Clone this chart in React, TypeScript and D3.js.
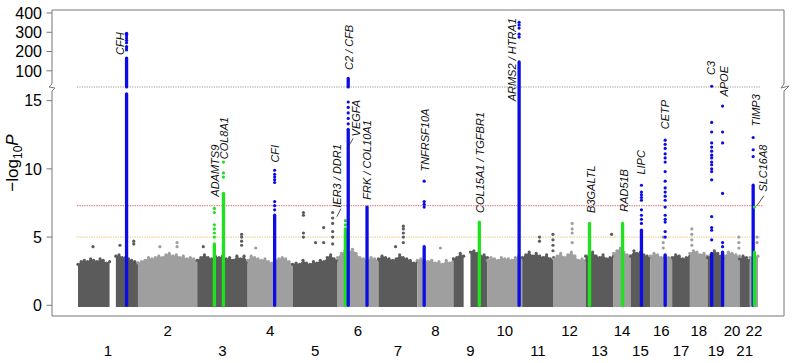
import * as d3 from "d3";

// chromosome widths on the x axis (share of markers, per mille)
const chrNames = ["1", "2", "3", "4", "5", "6", "7", "8", "9", "10", "11", "12", "13", "14", "15", "16", "17", "18", "19", "20", "21", "22"];
const chrSpan = [88, 87, 74, 66, 66, 60, 57, 53, 50, 51, 46, 47, 41, 25, 29, 32, 26, 26, 25, 22, 15, 12];

// upper edge of the dense background cloud, evenly spaced along each chromosome (null = gap)
const chrProfile: (number | null)[][] = [
  [3.0, 3.2, 3.3, 3.2, 3.4, 3.3, 3.2, 3.4, 3.3, 3.1, 3.2, null, 3.6, 3.7, 3.5, 3.5, 3.4, 3.3, 3.2, 3.1],
  [3.1, 3.2, 3.3, 3.5, 3.4, 3.5, 3.6, 3.5, 3.7, 3.8, 3.6, 3.7, 3.5, 3.6, 3.4, 3.5, 3.4, 3.3],
  [3.3, 3.5, 3.7, 3.5, 3.4, 3.6, 3.5, 3.6, 3.4, 3.5, 3.3, 3.6, 3.4, 3.6, 3.2],
  [3.3, 3.6, 3.5, 3.4, 3.3, 3.4, 3.2, 3.1, 3.3, 3.4, 3.5, 3.4, 3.2, 3.0],
  [3.0, 3.1, 3.0, 3.3, 3.1, 3.0, 3.2, 3.1, 3.3, 3.2, 3.5, 3.7, 3.4, 3.3],
  [3.5, 3.8, 4.0, 3.9, 4.1, 3.8, 3.5, 3.4, 3.3, 3.5, 3.4, 3.3],
  [3.4, 3.6, 3.5, 3.4, 3.3, 3.4, 3.7, 3.5, 3.4, 3.3, 3.1, 3.2],
  [3.3, 3.4, 3.3, 3.2, 3.3, 3.1, 3.2, 3.0, 3.3, 3.1, 3.4],
  [3.4, 3.5, 3.8, 3.6, null, 3.9, 4.0, 3.8, 3.6, 3.7, 3.5],
  [3.3, 3.5, 3.4, 3.3, 3.5, 3.4, 3.4, 3.3, 3.5, 3.6, 3.4],
  [3.5, 3.7, 3.9, 3.6, 3.8, 3.6, 3.5, 3.7, 3.4, 3.5],
  [3.4, 3.6, 3.8, 3.5, 3.7, 3.9, 3.6, 3.3, 3.4, 3.3],
  [3.6, 3.7, 3.9, 3.6, 3.5, 3.7, 3.4, 3.5, 3.6],
  [3.8, 4.0, 4.2, 3.9, 3.7, 3.6],
  [3.6, 4.0, 3.8, 3.9, 3.7, 3.6, 3.5],
  [3.6, 3.8, 3.7, 3.5, 3.6, 3.5, 3.4],
  [3.5, 3.7, 3.6, 3.4, 3.5, 3.6],
  [3.8, 4.0, 3.9, 3.7, 3.8, 3.6],
  [3.5, 3.7, 4.0, 3.8, 3.6, 3.5],
  [3.6, 3.9, 3.8, 3.7, 3.6],
  [3.4, 3.6, 3.5, 3.3],
  [3.5, 3.7, 3.6],
];

// isolated background markers above the cloud: chromosome, position within it, -log10 P
const strayChr = [1, 1, 1, 2, 2, 3, 3, 4, 5, 5, 5, 5, 7, 7, 8, 11, 11, 12, 13, 16, 18, 20, 22];
const strayPos = [0.25, 0.70, 0.93, 0.37, 0.66, 0.12, 0.88, 0.18, 0.24, 0.51, 0.69, 0.89, 0.44, 0.64, 0.64, 0.55, 0.98, 0.58, 0.93, 0.59, 0.11, 0.95, 0.88];
const strayP = [
  [4.3], [4.4], [4.5, 4.7], [4.3], [4.3, 4.6], [4.3], [4.4, 4.7, 5.0, 5.2], [4.2],
  [5.0, 5.3, 6.6, 6.8], [4.6], [4.6, 5.7], [4.5, 5.0, 5.4, 6.0, 6.4, 6.8],
  [4.3], [4.6, 5.0, 5.3, 5.6, 5.8], [4.2], [4.7, 5.0], [4.0, 4.4, 4.8, 5.2],
  [4.6, 5.3, 5.6, 6.0], [5.2], [4.2, 4.6, 5.0], [4.4, 4.8, 5.2, 5.6], [4.2, 4.6, 5.0], [4.6, 5.0],
];

// highlighted loci
const lociChr = [1, 3, 3, 4, 6, 6, 6, 8, 9, 10, 13, 14, 15, 16, 19, 19, 22, 22];
const lociPos = [0.81, 0.34, 0.52, 0.60, 0.19, 0.26, 0.72, 0.19, 0.76, 0.91, 0.14, 0.53, 0.55, 0.68, 0.24, 0.88, 0.41, 0.56];
const lociNovel = [false, true, true, false, true, false, false, false, true, false, true, true, false, false, false, false, false, true];
// continuous runs of markers [from, to] in -log10 P
const lociRuns: number[][][] = [
  [[0, 15.5], [16.5, 166]],
  [[0, 4.5]],
  [[0, 8.2]],
  [[0, 6.6]],
  [[0, 5.6]],
  [[0, 12.9], [16.5, 61]],
  [[0, 7.2]],
  [[0, 4.3]],
  [[0, 6.1]],
  [[0, 146]],
  [[0, 6.0]],
  [[0, 6.0]],
  [[0, 5.5]],
  [[0, 3.7]],
  [[0, 3.8]],
  [[0, 3.9]],
  [[0, 8.8]],
  [[0, 3.9]],
];
// single markers above / between the runs
const lociDots: number[][] = [
  [208, 218, 226, 246, 258, 270, 282, 290, 295],
  [5.0, 5.3, 5.6, 5.9, 6.8, 7.1],
  [9.4, 9.7, 10.5],
  [7.0, 7.3, 7.6, 9.0, 9.2, 9.4, 9.6, 9.9],
  [5.9, 6.2],
  [13.3, 13.7, 14.1, 14.5, 14.9],
  [],
  [7.2, 7.4, 7.6, 9.1],
  [],
  [275, 290, 322, 338, 352],
  [],
  [],
  [6.0, 6.3, 6.6, 7.0, 7.7, 7.9, 8.1, 8.3, 8.8],
  [5.0, 5.4, 6.1, 6.3, 6.6, 7.2, 7.7, 8.0, 8.3, 8.6, 9.1, 9.8, 10.5, 10.8, 11.1, 11.5, 11.8, 12.1],
  [4.8, 5.5, 5.7, 6.5, 9.2, 9.8, 10.0, 10.3, 10.5, 10.8, 11.0, 11.3, 11.6, 11.9, 12.7, 13.4, 20],
  [4.3, 4.6, 8.2, 11.9, 12.7, 14.6],
  [10.9, 11.4, 12.3],
  [7.2],
];

// gene labels: locus index and -log10 P where the label starts
const geneLabels = ["CFH", "ADAMTS9", "COL8A1", "CFI", "IER3 / DDR1", "C2 / CFB", "VEGFA", "FRK / COL10A1", "TNFRSF10A", "COL15A1 / TGFBR1", "ARMS2 / HTRA1", "B3GALTL", "RAD51B", "LIPC", "CETP", "C3", "APOE", "TIMP3", "SLC16A8"];
const labelLocus = [0, 1, 2, 3, 4, 5, 5, 6, 7, 8, 9, 10, 11, 12, 13, 14, 15, 16, 17];
const labelAt = [182, 7.96, 10.7, 10.46, 7.15, 104, 12.38, 7.74, 9.8, 6.77, 14.95, 6.77, 6.85, 9.58, 12.9, 78, 15.3, 13.1, 8.33];

const lowerTicks = [0, 5, 10, 15];
const upperTicks = [100, 200, 300, 400];
const breakAt = 16;
const genomeWide = 7.3;
const suggestive = 5;

// layout only
const labelDx = [-2.5, 5, 5, 4, -4, 4.5, 12, 3.5, 5, 5, -3, 5, 5, 4, 4, 3, 5, 6.5, 12.5];
const leaders: Record<string, number[]> = {
  "VEGFA": [-13, 12, -7, 2],
  "IER3 / DDR1": [-4.5, 9, -0.5, 1],
  "SLC16A8": [-10, 14, -3, 4],
};

const DARK = "#5b5b5b";
const LIGHT = "#9f9f9f";
const BLUE = "#0c0ce6";
const GREEN = "#1de21d";
const FONT = "'Liberation Sans', Arial, Helvetica, sans-serif";

export default function App() {
  const W = 800, H = 363;
  const frame = { left: 52, right: 784, top: 10, bottom: 316 };
  const starts = Array.from(d3.cumsum([0, ...chrSpan]));
  const x = d3.scaleLinear().domain([0, d3.sum(chrSpan)]).range([78, 758]);
  const y = d3.scaleLinear().domain([0, breakAt, 400]).range([305.3, 87, 13]);
  const posX = (chr: number, frac: number) => x(starts[chr - 1] + frac * chrSpan[chr - 1]);
  const r = 1.6;

  const area = d3
    .area<{ f: number; v: number | null; c: number }>()
    .defined(d => d.v != null)
    .x(d => posX(d.c, d.f))
    .y0(y(0) + r)
    .y1(d => y(d.v as number));

  const xLo = 77, xHi = 760;
  const brkY = y(breakAt);

  return (
    <svg width={W} height={H} style={{ position: "absolute", left: 0, top: 0, background: "#fff" }} fontFamily={FONT}>
      {/* threshold lines */}
      <line x1={xLo} x2={xHi} y1={brkY} y2={brkY} stroke="#8c8c8c" strokeWidth={0.9} strokeDasharray="1.2,1.2" />
      <line x1={xLo} x2={xHi + 3} y1={y(genomeWide)} y2={y(genomeWide)} stroke="#e06a6a" strokeWidth={1} strokeDasharray="1.4,1" />
      <line x1={xLo} x2={xHi} y1={y(suggestive)} y2={y(suggestive)} stroke="#f3c36e" strokeWidth={1} strokeDasharray="1.4,1" />

      {/* background cloud */}
      {chrProfile.map((prof, i) => {
        const pts = prof.map((v, j) => ({ f: j / (prof.length - 1), v, c: i + 1 }));
        const col = i % 2 === 0 ? DARK : LIGHT;
        return (
          <g key={"m" + i} fill={col}>
            <path d={area(pts) || ""} />
            {pts.filter(p => p.v != null).map((p, j) => (
              <circle key={j} cx={posX(p.c, p.f)} cy={y(p.v as number)} r={r} />
            ))}
          </g>
        );
      })}

      {/* stray markers */}
      {strayChr.map((c, i) =>
        strayP[i].map((v, j) => (
          <circle key={"s" + i + "-" + j} cx={posX(c, strayPos[i])} cy={y(v)} r={r} fill={(c - 1) % 2 === 0 ? DARK : LIGHT} />
        ))
      )}

      {/* highlighted loci */}
      {lociChr.map((c, i) => {
        const cx = posX(c, lociPos[i]);
        const col = lociNovel[i] ? GREEN : BLUE;
        return (
          <g key={"l" + i}>
            {lociRuns[i].map(([a, b], j) => (
              <line key={j} x1={cx} x2={cx} y1={y(a)} y2={y(b)} stroke={col} strokeWidth={3.3} strokeLinecap="round" />
            ))}
            {lociDots[i].map((v, j) => (
              <circle key={"d" + j} cx={cx} cy={y(v)} r={r} fill={col} />
            ))}
          </g>
        );
      })}

      {/* gene labels */}
      {geneLabels.map((name, i) => {
        const li = labelLocus[i];
        const lx = posX(lociChr[li], lociPos[li]) + labelDx[i];
        const ly = y(labelAt[i]);
        const ld = leaders[name];
        return (
          <g key={"g" + i}>
            <text transform={`translate(${lx},${ly}) rotate(-90)`} fontSize={11} fontStyle="italic" fill="#111">
              {name}
            </text>
            {ld && <line x1={lx + ld[0]} y1={ly + ld[1]} x2={lx + ld[2]} y2={ly + ld[3]} stroke="#222" strokeWidth={0.8} />}
          </g>
        );
      })}

      {/* frame with axis break */}
      <g stroke="#777" strokeWidth={1} fill="none">
        <path d={`M${frame.left},${brkY - 3}V${frame.top}H${frame.right}V${brkY - 3}`} />
        <path d={`M${frame.left},${brkY + 4}V${frame.bottom}H${frame.right}V${brkY + 4}`} />
        <path d={`M${frame.left},${brkY - 3}L${frame.left - 3},${brkY}L${frame.left + 3},${brkY + 1}L${frame.left},${brkY + 4}`} />
        <path d={`M${frame.right},${brkY - 3}L${frame.right - 3},${brkY + 1}L${frame.right + 5},${brkY - 1}L${frame.right},${brkY + 4}`} />
      </g>

      {/* y ticks */}
      {[...lowerTicks, ...upperTicks].map(t => (
        <g key={"t" + t} transform={`translate(${frame.left},${y(t)})`}>
          <line x1={-5.5} x2={0} stroke="#777" />
          <text x={-10} dy="0.36em" textAnchor="end" fontSize={16} fill="#000">{t}</text>
        </g>
      ))}

      {/* y title */}
      <text transform="translate(18,163) rotate(-90)" textAnchor="middle" fontSize={17} fill="#000">
        −log<tspan dy={4} fontSize={12}>10</tspan><tspan dy={-4} fontStyle="italic">P</tspan>
      </text>

      {/* chromosome labels */}
      {chrNames.map((n, i) => (
        <text key={"c" + n} x={posX(i + 1, 0.5)} y={i % 2 === 1 ? 336 : 356} textAnchor="middle" fontSize={15} fill="#000">
          {n}
        </text>
      ))}
    </svg>
  );
}
